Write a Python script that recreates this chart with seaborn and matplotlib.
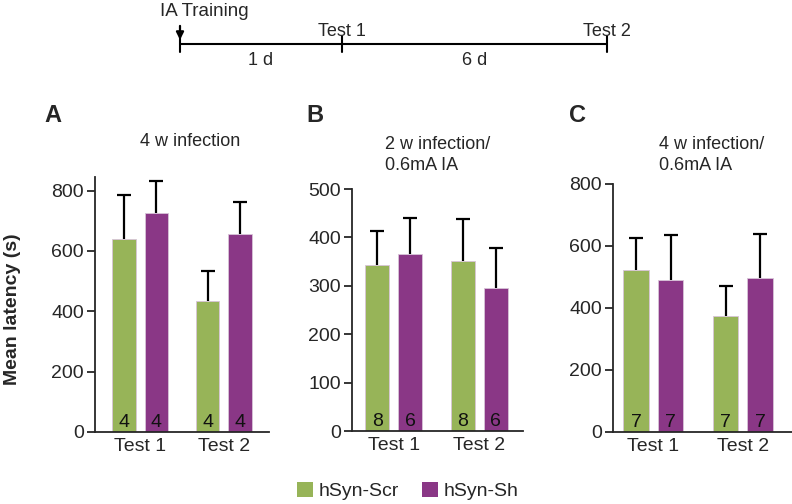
import numpy as np
import pandas as pd
import matplotlib
matplotlib.use("Agg")
import matplotlib.pyplot as plt
from matplotlib.patches import Patch
import seaborn as sns

# data
tests = ["Test 1", "Test 2"]
groups = ["hSyn-Scr", "hSyn-Sh"]

a_means = [640, 725, 435, 655]   # order: T1-Scr, T1-Sh, T2-Scr, T2-Sh
a_sem = [145, 107, 100, 108]
a_n = [4, 4, 4, 4]

b_means = [344, 366, 351, 296]
b_sem = [69, 75, 87, 83]
b_n = [8, 6, 8, 6]

c_means = [524, 490, 373, 498]
c_sem = [103, 145, 97, 141]
c_n = [7, 7, 7, 7]

panel_titles = ["4 w infection", "2 w infection/\n0.6mA IA", "4 w infection/\n0.6mA IA"]
panel_letters = ["A", "B", "C"]
panel_ylims = [845, 500, 800]
panel_yticks = [[0, 200, 400, 600, 800], [0, 100, 200, 300, 400, 500], [0, 200, 400, 600, 800]]

timeline_events = ["IA Training", "Test 1", "Test 2"]
timeline_pos = [0, 1, 2.64]
timeline_gaps = ["1 d", "6 d"]

palette = {"hSyn-Scr": "#97b458", "hSyn-Sh": "#8a3786"}

sns.set_style("ticks")
plt.rcParams["font.family"] = ["Liberation Sans", "DejaVu Sans"]

fig = plt.figure(figsize=(7.92, 5.04), dpi=100)

# timeline schematic
ax_t = fig.add_axes([180 / 792, 1 - 70 / 504, 427 / 792, 70 / 504])
ax_t.set_xlim(timeline_pos[0], timeline_pos[-1])
ax_t.set_ylim(0, 1)
ax_t.axis("off")
ax_t.plot([timeline_pos[0], timeline_pos[-1]], [0.371, 0.371], color="black", lw=1.5, clip_on=False)
for p in timeline_pos:
    ax_t.plot([p, p], [0.26, 0.485], color="black", lw=1.5, clip_on=False)
ax_t.text(timeline_pos[0] - 0.124, 0.83, timeline_events[0], ha="left", va="center", fontsize=13.5)
ax_t.annotate("", xy=(timeline_pos[0], 0.43), xytext=(timeline_pos[0], 0.63),
              arrowprops=dict(arrowstyle="-|>", color="black", lw=1.6, mutation_scale=11,
                              shrinkA=0, shrinkB=0))
for ev, p in zip(timeline_events[1:], timeline_pos[1:]):
    ax_t.text(p, 0.545, ev, ha="center", va="center", fontsize=13)
for i, g in enumerate(timeline_gaps):
    ax_t.text((timeline_pos[i] + timeline_pos[i + 1]) / 2, 0.14, g, ha="center", va="center", fontsize=13)

# bar panels
axes_rects = [
    [95 / 792, 72 / 504, 174 / 792, 255 / 504],
    [352 / 792, 73 / 504, 171 / 792, 242 / 504],
    [613 / 792, 72 / 504, 179 / 792, 248 / 504],
]
xlims = [(-0.54, 1.54), (-0.49, 1.51), (-0.45, 1.55)]
panels = [(a_means, a_sem, a_n), (b_means, b_sem, b_n), (c_means, c_sem, c_n)]

for k, (means, sem, ns) in enumerate(panels):
    ax = fig.add_axes(axes_rects[k])
    df = pd.DataFrame({
        "test": np.repeat(tests, len(groups)),
        "group": groups * len(tests),
        "mean": means,
        "sem": sem,
        "n": ns,
    })
    sns.barplot(data=df, x="test", y="mean", hue="group", hue_order=groups,
                palette=palette, order=tests, width=0.77, gap=0.27,
                errorbar=None, legend=False, ax=ax, saturation=1,
                linewidth=0.6, edgecolor="#d8c4d8")
    bars = sorted(ax.patches, key=lambda p: p.get_x())
    for bar, (_, row) in zip(bars, df.iterrows()):
        xc = bar.get_x() + bar.get_width() / 2
        top = row["mean"] + row["sem"]
        # upper-only error bar
        ax.vlines(xc, row["mean"], top, color="black", lw=1.6)
        ax.plot([xc], [top], marker="_", ms=10, mew=1.6, color="black")
        ax.annotate(str(row["n"]), xy=(xc, 0), xytext=(0, 1), textcoords="offset points",
                    ha="center", va="bottom", fontsize=14, color="#111111")
    ax.set_xlim(*xlims[k])
    ax.set_ylim(0, panel_ylims[k])
    ax.set_yticks(panel_yticks[k])
    ax.set_xlabel("")
    ax.set_ylabel("")
    sns.despine(ax=ax)
    for s in ["left", "bottom"]:
        ax.spines[s].set_linewidth(1.3)
    ax.tick_params(axis="y", length=6, width=1.3, labelsize=14, pad=2)
    ax.tick_params(axis="x", length=0, labelsize=14, pad=4)

# panel titles and letters
fig.text(190 / 792, 1 - 142 / 504, panel_titles[0], ha="center", va="center", fontsize=13)
fig.text(385 / 792, 1 - 174 / 504, panel_titles[1], ha="left", va="bottom", fontsize=13, linespacing=1.3)
fig.text(659 / 792, 1 - 174 / 504, panel_titles[2], ha="left", va="bottom", fontsize=13, linespacing=1.3)
for letter, xp in zip(panel_letters, [53, 315, 578]):
    fig.text(xp / 792, 1 - 115 / 504, letter, ha="center", va="center", fontsize=17, fontweight="bold")

fig.text(13 / 792, 1 - 309 / 504, "Mean latency (s)", rotation=90, ha="center", va="center",
         fontsize=14, fontweight="bold")

handles = [Patch(facecolor=palette[g], edgecolor="none", label=g) for g in groups]
fig.legend(handles=handles, loc="center", bbox_to_anchor=(408 / 792, 1 - 491 / 504), ncol=2,
           frameon=False, fontsize=14, handlelength=0.8, handleheight=0.8,
           handletextpad=0.3, columnspacing=1.2)

fig.savefig("out.png", dpi=100)
